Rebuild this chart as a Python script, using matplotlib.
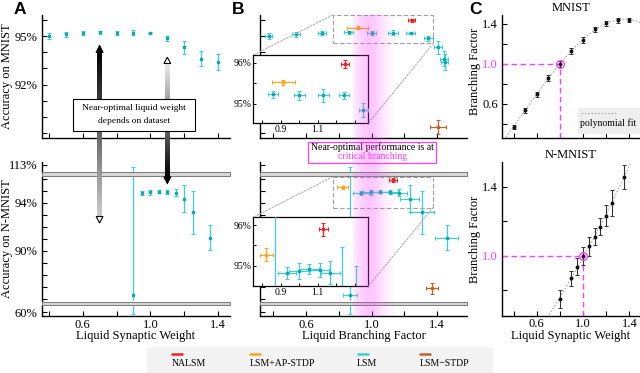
import numpy as np
import matplotlib
matplotlib.use('Agg')
import matplotlib.pyplot as plt
from matplotlib.patches import Rectangle, Polygon, ConnectionPatch

# ---------------- data ----------------
weights_mnist = [0.4, 0.5, 0.6, 0.7, 0.8, 0.9, 1.0, 1.1, 1.2, 1.3, 1.4]
acc_mnist = [95.0, 95.12, 95.2, 95.23, 95.2, 95.2, 95.2, 94.85, 94.3, 93.6, 93.4]
acc_mnist_err = [0.2, 0.15, 0.12, 0.08, 0.12, 0.15, 0.08, 0.17, 0.4, 0.47, 0.5]
bf_mnist = [0.373, 0.54, 0.70, 0.86, 1.0, 1.13, 1.24, 1.347, 1.407, 1.44, 1.445]
bf_mnist_err = [0.02, 0.025, 0.025, 0.027, 0.03, 0.03, 0.027, 0.025, 0.025, 0.025, 0.02]

weights_nmnist = [0.8, 0.9, 0.95, 1.0, 1.05, 1.1, 1.15, 1.2, 1.25, 1.35]
bf_nmnist = [0.75, 0.868, 0.935, 0.999, 1.053, 1.11, 1.168, 1.232, 1.307, 1.458]
bf_nmnist_err = [0.053, 0.045, 0.05, 0.053, 0.055, 0.05, 0.05, 0.06, 0.075, 0.07]
weights_nmnist_acc = [0.9, 0.95, 1.0, 1.05, 1.1, 1.15, 1.2, 1.25, 1.35]
acc_nmnist = [86.3, 94.83, 94.87, 94.93, 94.9, 94.83, 94.33, 93.2, 91.1]
acc_nmnist_err = [26.5, 0.15, 0.2, 0.12, 0.16, 0.28, 1.14, 1.8, 1.08]

# other models, [MNIST, N-MNIST]
nalsm_bf = [1.245, 1.13]; nalsm_bf_err = [0.022, 0.025]
nalsm_acc = [95.97, 95.9]; nalsm_acc_err = [0.1, 0.16]
ap_bf = [0.915, 0.823]; ap_bf_err = [0.063, 0.036]
ap_acc = [95.52, 95.27]; ap_acc_err = [0.07, 0.16]
stdp_bf = [1.407, 1.37]; stdp_bf_err = [0.049, 0.037]
stdp_acc = [89.375, 86.87]; stdp_acc_err = [0.45, 0.47]
crit_weight = [0.8, 1.0]

legend_labels = ['NALSM', 'LSM+AP-STDP', 'LSM', 'LSM\u2212STDP']

# ---------------- style ----------------
plt.rcParams['font.family'] = ['Liberation Serif', 'DejaVu Serif']
plt.rcParams['font.size'] = 9

C_RED = '#ee2222'
C_ORG = '#ffa41f'
C_LSM = '#13a6b0'
C_LSME = '#40cdd6'
C_BRN = '#c0622c'
C_MAG = '#ff3cff'

W, H = 640, 373
fig = plt.figure(figsize=(W / 100, H / 100), dpi=100)


def add_ax(x0, y0, x1, y1, **kw):
    return fig.add_axes([x0 / W, 1 - y1 / H, (x1 - x0) / W, (y1 - y0) / H], **kw)


ov = add_ax(0, 0, W, H, zorder=10)
ov.set_xlim(0, W)
ov.set_ylim(H, 0)
ov.axis('off')


def px(ax, x, y):
    return ov.transData.inverted().transform(ax.transData.transform((x, y)))


def style(ax, bottom=True, ylab=True):
    for s in ('top', 'right'):
        ax.spines[s].set_visible(False)
    ax.spines['bottom'].set_visible(bottom)
    for s in ('left', 'bottom'):
        ax.spines[s].set_linewidth(1.0)
    ax.tick_params(direction='in', length=3.5, width=0.8, labelsize=9)
    ax.tick_params(axis='y', pad=3, labelleft=ylab)
    ax.tick_params(axis='x', pad=2)
    ax.patch.set_alpha(0)
    if not bottom:
        ax.tick_params(axis='x', bottom=False, labelbottom=False)


def eb(ax, x, y, xerr, yerr, color, ecolor, ms=2.0, marker='s', z=3):
    ax.errorbar(x, y, xerr=xerr, yerr=yerr, fmt=marker, ms=ms, color=color, mec=color,
                ecolor=ecolor, elinewidth=0.9, capsize=1.6, capthick=0.8, zorder=z)


def set_xt(ax, labels=True):
    lim = ax.get_xlim()
    ax.set_xticks([0.4, 0.6, 0.8, 1.0, 1.2, 1.4])
    if labels:
        ax.set_xticklabels(['', '0.6', '', '1.0', '', '1.4'])
    else:
        ax.set_xticklabels([])
    ax.set_xlim(*lim)


def yt(ax, ticks, labels):
    lim = ax.get_ylim()
    ticks = [t for t in ticks if lim[0] <= t <= lim[1]]
    ax.set_yticks(ticks)
    ax.set_yticklabels([labels.get(t, '') for t in ticks])
    ax.set_ylim(*lim)
    return ticks


XL_A = (0.36, 1.47)
XL_B = (0.3195, 1.582)
YL_TOP = (88.7, 96.3)


def broken(x0, x1, xlim, ylab):
    t = add_ax(x0, 161.7, x1, 171.7)
    m = add_ax(x0, 176.7, x1, 301.3)
    b = add_ax(x0, 305, x1, 316)
    t.set_ylim(112.44, 113.275)
    m.set_ylim(85.78, 96.17)
    b.set_ylim(59.67, 60.58)
    for a in (t, m, b):
        a.set_xlim(*xlim)
    style(t, bottom=False, ylab=ylab)
    style(m, bottom=False, ylab=ylab)
    style(b, bottom=True, ylab=ylab)
    yt(t, [113], {113: '113%'})
    yt(m, list(range(86, 97)), {94: '94%', 90: '90%'})
    yt(b, [60], {60: '60%'})
    set_xt(b, True)
    return t, m, b


# ---------------- panel A ----------------
axA = add_ax(42, 15, 230, 138)
axA.set_xlim(*XL_A); axA.set_ylim(*YL_TOP)
style(axA)
set_xt(axA, False)
yt(axA, list(range(89, 97)), {95: '95%', 92: '92%'})
eb(axA, weights_mnist, acc_mnist, None, acc_mnist_err, C_LSM, C_LSME)

A_segs = broken(42, 230, XL_A, True)
for a in A_segs:
    eb(a, weights_nmnist_acc, acc_nmnist, None, acc_nmnist_err, C_LSM, C_LSME)

# ---------------- panel B ----------------
def plot_B(ax, i, lsm_bf, lsm_bf_err, lsm_acc, lsm_acc_err):
    eb(ax, lsm_bf, lsm_acc, lsm_bf_err, lsm_acc_err, C_LSM, C_LSME)
    eb(ax, [ap_bf[i]], [ap_acc[i]], [ap_bf_err[i]], [ap_acc_err[i]], C_ORG, C_ORG)
    eb(ax, [nalsm_bf[i]], [nalsm_acc[i]], [nalsm_bf_err[i]], [nalsm_acc_err[i]], C_RED, C_RED)
    eb(ax, [stdp_bf[i]], [stdp_acc[i]], [stdp_bf_err[i]], [stdp_acc_err[i]], C_BRN, C_BRN)


axB = add_ax(260, 15, 467, 138)
axB.set_xlim(*XL_B); axB.set_ylim(*YL_TOP)
style(axB, ylab=False)
set_xt(axB, False)
yt(axB, list(range(89, 97)), {})
plot_B(axB, 0, bf_mnist, bf_mnist_err, acc_mnist, acc_mnist_err)

B_segs = broken(260, 467, XL_B, False)
for a in B_segs:
    plot_B(a, 1, bf_nmnist[1:], bf_nmnist_err[1:], acc_nmnist, acc_nmnist_err)

# zoom rectangles
RX0, RX1 = 0.763, 1.376
rect1 = Rectangle((RX0, 94.54), RX1 - RX0, 96.3 - 94.54, fill=False, ec='#a0a0a0',
                  lw=0.8, ls=(0, (4, 2)), clip_on=False, zorder=2)
axB.add_patch(rect1)
rect2 = Rectangle((RX0, 93.6), RX1 - RX0, 96.17 - 93.6, fill=False, ec='#a0a0a0',
                  lw=0.8, ls=(0, (4, 2)), clip_on=False, zorder=2)
B_segs[1].add_patch(rect2)


def inset(y0, y1, ylo):
    ai = add_ax(253.3, y0, 368.3, y1)
    ai.set_facecolor('white')
    for s in ai.spines.values():
        s.set_linewidth(0.9)
    ai.tick_params(direction='in', length=2.5, width=0.7, labelsize=7, pad=1.5)
    ai.set_xticks([0.8, 0.9, 1.0, 1.1, 1.2, 1.3])
    ai.set_xticklabels(['', '0.9', '', '1.1', '', ''])
    ai.set_yticks([95, 95.5, 96])
    ai.set_yticklabels(['95%', '', '96%'])
    ai.set_xlim(0.752, 1.373)
    ai.set_ylim(ylo, 96.19)
    return ai


axBi1 = inset(55, 123.3, 94.52)
plot_B(axBi1, 0, bf_mnist, bf_mnist_err, acc_mnist, acc_mnist_err)
axBi2 = inset(217.3, 286.3, 94.5)
plot_B(axBi2, 1, bf_nmnist[1:], bf_nmnist_err[1:], acc_nmnist, acc_nmnist_err)

for main, r, ai in ((axB, rect1, axBi1), (B_segs[1], rect2, axBi2)):
    x0, y0 = r.get_xy()
    for xyA, xyB in (((x0, y0 + r.get_height()), (0, 1)), ((x0 + r.get_width(), y0), (1, 0))):
        cp = ConnectionPatch(xyA=xyA, coordsA=main.transData, xyB=xyB, coordsB=ai.transAxes,
                             color='#b0b0b0', lw=0.8, ls=(0, (1.5, 1.5)), zorder=1)
        fig.add_artist(cp)

# ---------------- panel C ----------------
XL_C = (0.3003, 1.492)
axC1 = add_ax(502, 15, 640, 138.3)
axC1.set_xlim(*XL_C); axC1.set_ylim(0.257, 1.49)
axC2 = add_ax(502, 161.7, 640, 315.7)
axC2.set_xlim(*XL_C); axC2.set_ylim(0.651, 1.545)
for k, (ax, w, bf, bfe) in enumerate(((axC1, weights_mnist, bf_mnist, bf_mnist_err),
                                      (axC2, weights_nmnist, bf_nmnist, bf_nmnist_err))):
    style(ax)
    set_xt(ax, k == 1)
    ticks = yt(ax, [0.4, 0.6, 0.8, 1.0, 1.2, 1.4], {1.4: '1.4', 1.0: '1.0', 0.6: '0.6'})
    for lab, t in zip(ax.get_yticklabels(), ticks):
        if t == 1.0:
            lab.set_color(C_MAG)
    coef = np.polyfit(w, bf, 3 if k == 0 else 2)
    xs = np.linspace(0.3, 1.5, 200)
    ax.plot(xs, np.polyval(coef, xs), color='#aaaaaa', lw=0.8, ls=(0, (1.5, 1.5)), zorder=1)
    ax.errorbar(w, bf, yerr=bfe, fmt='o', ms=1.8, color='#111111', ecolor='#333333',
                elinewidth=0.8, capsize=1.2, capthick=0.7, zorder=3)
    cw = crit_weight[k]
    ylo = ax.get_ylim()[0]
    ax.plot([XL_C[0], cw], [1.0, 1.0], color=C_MAG, lw=1.0, ls=(0, (4, 2.5)), zorder=2)
    ax.plot([cw, cw], [ylo, 1.0], color=C_MAG, lw=1.0, ls=(0, (4, 2.5)), zorder=2)
    ax.plot([cw], [1.0], 'o', mfc='none', mec=C_MAG, mew=1.0, ms=5.5, zorder=4)

# ---------------- overlay: text, arrows, bands ----------------
TXT = dict(ha='center', va='center')
SANS = ['Liberation Sans', 'DejaVu Sans']
ov.text(14, 9, 'A', fontsize=12.5, fontweight='bold', family=SANS, ha='left', va='center')
ov.text(232, 9, 'B', fontsize=12.5, fontweight='bold', family=SANS, ha='left', va='center')
ov.text(469, 9, 'C', fontsize=12.5, fontweight='bold', family=SANS, ha='left', va='center')

ov.text(7, 76.5, 'Accuracy on MNIST', rotation=90, fontsize=9, **TXT)
ov.text(7, 239, 'Accuracy on N-MNIST', rotation=90, fontsize=9, **TXT)
ov.text(475, 71, 'Branching Factor', rotation=90, fontsize=9, **TXT)
ov.text(475, 239, 'Branching Factor', rotation=90, fontsize=9, **TXT)
ov.text(136, 336, 'Liquid Synaptic Weight', fontsize=9, **TXT)
ov.text(363.5, 336, 'Liquid Branching Factor', fontsize=9, **TXT)
ov.text(571, 336, 'Liquid Synaptic Weight', fontsize=9, **TXT)
ov.text(571, 8, 'MNIST', fontsize=9, **TXT)
ov.text(571, 154.5, 'N-MNIST', fontsize=9, **TXT)

# axis-break bands
for xa, xb in ((42, 230), (260, 467)):
    for ya, yb in ((172.3, 175.8), (301.6, 304.6)):
        ov.add_patch(Rectangle((xa, ya), xb - xa, yb - ya, fc='#d6d6d6', ec='#7a7a7a',
                               lw=0.7, zorder=2))


def grad_shaft(x, y0, y1, g0, g1):
    g = np.linspace(g0, g1, 200).reshape(-1, 1)
    ov.imshow(g, cmap='gray', vmin=0, vmax=1, extent=[x - 2.5, x + 2.5, y1, y0],
              aspect='auto', interpolation='bilinear', zorder=3)


xa1 = px(axA, 0.7, 95)[0]
xa2 = px(axA, 1.1, 95)[0]
grad_shaft(xa1, 52, 216.5, 0.0, 0.8)
ov.add_patch(Polygon([(xa1 - 3.7, 52.5), (xa1 + 3.7, 52.5), (xa1, 45)], closed=True,
                     fc='black', ec='black', lw=0.5, zorder=4))
ov.add_patch(Polygon([(xa1 - 3.4, 216.5), (xa1 + 3.4, 216.5), (xa1, 223)], closed=True,
                     fc='white', ec='black', lw=0.8, zorder=4))
grad_shaft(xa2, 63.5, 177, 0.93, 0.0)
ov.add_patch(Polygon([(xa2 - 3.4, 63.5), (xa2 + 3.4, 63.5), (xa2, 57.3)], closed=True,
                     fc='white', ec='black', lw=0.8, zorder=4))
ov.add_patch(Polygon([(xa2 - 3.7, 176.8), (xa2 + 3.7, 176.8), (xa2, 184)], closed=True,
                     fc='black', ec='black', lw=0.5, zorder=4))

ov.add_patch(Rectangle((72.7, 99), 195 - 72.7, 130.7 - 99, fc='white', ec='black', lw=0.8, zorder=5))
ov.text(134, 108.3, 'Near-optimal liquid weight', fontsize=6.8, zorder=6, **TXT)
ov.text(134, 120.7, 'depends on dataset', fontsize=6.8, zorder=6, **TXT)

ov.add_patch(Rectangle((308.3, 141.7), 435.7 - 308.3, 162.7 - 141.7, fc='white', ec=C_MAG,
                       lw=0.9, zorder=5))
ov.text(372, 146.8, 'Near-optimal performance is at', fontsize=7, zorder=6, **TXT)
ov.text(372, 156.3, 'critical branching', fontsize=7, color=C_MAG, zorder=6, **TXT)

# critical-branching band
bl = px(axB, 0.885, 95)[0]
br = px(axB, 1.13, 95)[0]
xs = np.linspace(0, 1, 100)
alpha = 0.3 * np.exp(-((xs - 0.4) / 0.38) ** 2)
img = np.zeros((1, 100, 4))
img[..., 0] = 1.0; img[..., 1] = 0.25; img[..., 2] = 1.0
img[0, :, 3] = alpha
ov.imshow(img, extent=[bl, br, 316, 15], aspect='auto', interpolation='bilinear', zorder=7)

# polynomial fit legend (panel C)
ov.add_patch(Rectangle((578, 107.5), 62, 26, fc='#efefef', ec='none', zorder=5))
ov.plot([581, 617], [113, 113], color='#aaaaaa', lw=0.8, ls=(0, (1.5, 1.5)), zorder=6)
ov.text(580, 123.3, 'polynomial fit', fontsize=7, ha='left', va='center', zorder=6)

# bottom legend
ov.add_patch(Rectangle((146.7, 346.7), 493.3 - 146.7, H - 346.7, fc='#f3f3f3', ec='none', zorder=5))
for x0, lab, col in zip([171.3, 249.3, 356.7, 419.3], legend_labels, [C_RED, C_ORG, C_LSME, C_BRN]):
    ov.plot([x0, x0 + 12], [353.5, 353.5], color=col, lw=1.8, solid_capstyle='butt', zorder=6)
    ov.text(x0, 363.5, lab, fontsize=7, ha='left', va='center', zorder=6)

ov.set_xlim(0, W)
ov.set_ylim(H, 0)
ov.axis('off')

fig.savefig('out.png', dpi=100)
